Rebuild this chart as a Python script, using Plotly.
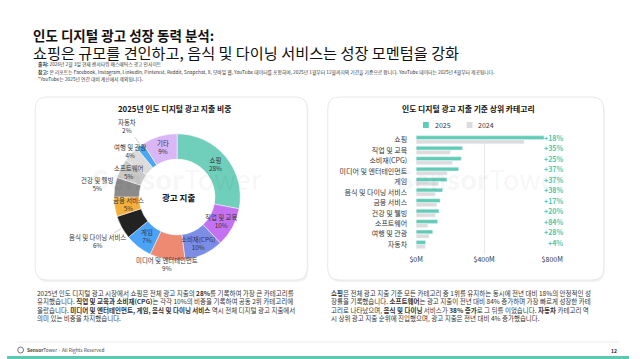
import math
import plotly.graph_objects as go

W, H = 640, 359
def px(x): return x / W
def py(y): return 1 - y / H

# ---------------- data ----------------
donut_labels = ["쇼핑", "직업 및 교육", "소비재(CPG)", "미디어 및 엔터테인먼트", "게임",
                "음식 및 다이닝 서비스", "금융 서비스", "건강 및 웰빙", "소프트웨어",
                "여행 및 관광", "자동차", "기타"]
donut_share = [28, 10, 10, 9, 7, 6, 5, 5, 5, 4, 2, 9]

bar_categories = ["쇼핑", "직업 및 교육", "소비재(CPG)", "미디어 및 엔터테인먼트", "게임",
                  "음식 및 다이닝 서비스", "금융 서비스", "건강 및 웰빙", "소프트웨어",
                  "여행 및 관광", "자동차"]
spend_2025 = [752, 272, 265, 250, 181, 155, 141, 134, 126, 97, 55]
spend_2024 = [634, 200, 212, 182, 132, 112, 120, 112, 68, 75, 53]
growth_labels = ["+18%", "+35%", "+25%", "+37%", "+37%", "+38%", "+17%", "+20%",
                 "+84%", "+28%", "+4%"]
x_tick_values = [0, 400, 800]
x_tick_labels = ["$0M", "$400M", "$800M"]
series_names = ["2025", "2024"]

# ---------------- styles ----------------
FONT = "Noto Sans CJK KR"
TEAL = "#5fcdb5"
GRAY = "#dcdcdc"
donut_colors = ["#6fcfbb", "#c472f2", "#7c8de6", "#ee8a72", "#4aa3f6", "#222222",
                "#f4b03c", "#8b8b8b", "#c9c9c9", "#dcdcdc", "#4ca7f2", "#d9b6f6"]
label_radius = [51, 51, 51, 68, 50, 93, 51, 83, 55, 66, 87, 52]
leader = [False, False, False, False, False, True, False, False, False, False, True, False]
CX, CY, R_OUT = 175, 197, 65

fig = go.Figure()

fig.add_trace(go.Pie(
    labels=donut_labels, values=donut_share, sort=False, direction="clockwise",
    rotation=0, hole=0.6,
    marker=dict(colors=donut_colors, line=dict(color="white", width=0.5)),
    textinfo="none",
    domain=dict(x=[px(CX - R_OUT), px(CX + R_OUT)], y=[py(CY + R_OUT), py(CY - R_OUT)]),
    showlegend=False, hoverinfo="label+percent",
))

fig.add_trace(go.Bar(
    y=bar_categories, x=spend_2025, name=series_names[0], orientation="h",
    marker=dict(color=TEAL), xaxis="x", yaxis="y", showlegend=False,
))
fig.add_trace(go.Bar(
    y=bar_categories, x=spend_2024, name=series_names[1], orientation="h",
    marker=dict(color=GRAY), xaxis="x", yaxis="y", showlegend=False,
))

def rrect(x0, y0, x1, y1, r):
    return (f"M {px(x0+r)},{py(y0)} L {px(x1-r)},{py(y0)} "
            f"Q {px(x1)},{py(y0)} {px(x1)},{py(y0+r)} L {px(x1)},{py(y1-r)} "
            f"Q {px(x1)},{py(y1)} {px(x1-r)},{py(y1)} L {px(x0+r)},{py(y1)} "
            f"Q {px(x0)},{py(y1)} {px(x0)},{py(y1-r)} L {px(x0)},{py(y0+r)} "
            f"Q {px(x0)},{py(y0)} {px(x0+r)},{py(y0)} Z")

shapes = []
for (x0, y0, x1, y1) in [(29, 97, 309, 280), (330, 97, 614, 280)]:
    shapes.append(dict(type="path", path=rrect(x0 + 1, y0 + 2, x1 + 1, y1 + 2, 12),
                       xref="paper", yref="paper", fillcolor="#f1f1f1",
                       line=dict(width=0), layer="below"))
    shapes.append(dict(type="path", path=rrect(x0, y0, x1, y1, 12),
                       xref="paper", yref="paper", fillcolor="white",
                       line=dict(color="#e9e9e9", width=1), layer="below"))
shapes.append(dict(type="line", xref="paper", yref="paper", x0=px(10), x1=px(630),
                   y0=py(342), y1=py(342), line=dict(color="#ececec", width=1)))
shapes.append(dict(type="rect", xref="paper", yref="paper", x0=0, x1=1,
                   y0=0, y1=py(356), fillcolor="#5ec9b3", line=dict(width=0)))
shapes.append(dict(type="circle", xref="paper", yref="paper", x0=px(11), x1=px(17),
                   y0=py(353), y1=py(347), line=dict(color="#555", width=0.8)))

ann = []
def text(x, y, s, size, color="#222222", xanchor="left", yanchor="middle", bold=False, **kw):
    ann.append(dict(x=px(x), y=py(y), xref="paper", yref="paper",
                    text=(f"<b>{s}</b>" if bold else s),
                    showarrow=False, xanchor=xanchor, yanchor=yanchor,
                    font=dict(family=FONT, size=size, color=color), **kw))

# watermarks (drawn first, behind other texts)
text(175, 178, "<b>Sensor</b>Tower", 27, "rgba(0,0,0,0.055)", xanchor="center")
text(489, 178, "<b>Sensor</b>Tower", 27, "rgba(0,0,0,0.055)", xanchor="center")

# donut labels placed from cumulative shares
total = sum(donut_share)
cum = 0
for lab, v, r, ld in zip(donut_labels, donut_share, label_radius, leader):
    ang = (cum + v / 2) / total * 2 * math.pi
    cum += v
    lx, ly = CX + r * math.sin(ang), CY - r * math.cos(ang)
    text(lx, ly, f"{lab}<br>{v}%", 6.4, "#333333", xanchor="center", align="center")
    if ld:
        x0, y0 = CX + (R_OUT + 1) * math.sin(ang), CY - (R_OUT + 1) * math.cos(ang)
        x1, y1 = CX + (R_OUT + 9) * math.sin(ang), CY - (R_OUT + 9) * math.cos(ang)
        shapes.append(dict(type="line", xref="paper", yref="paper", x0=px(x0), y0=py(y0),
                           x1=px(x1), y1=py(y1), line=dict(color="#bbbbbb", width=0.7)))

# titles
text(25, 35, "인도 디지털 광고 성장 동력 분석:", 13.5, "#111111", bold=True)
text(25, 51.5, "쇼핑은 규모를 견인하고, 음식 및 다이닝 서비스는 성장 모멘텀을 강화", 15.2, "#111111")
text(30, 64.5, "<b>출처:</b> 2026년 2월 3일 현재 센서타워 패스매틱스 광고 인사이트", 4.8, "#333333")
text(30, 71.5, "<b>참고:</b> 본 리포트는 Facebook, Instagram, LinkedIn, Pinterest, Reddit, Snapchat, X, 모바일 웹, YouTube 데이터를 포함하며, 2025년 1월부터 12월까지의 기간을 기준으로 합니다. YouTube 데이터는 2025년 4월부터 제공됩니다.", 4.8, "#333333")
text(30, 78.5, "*YouTube는 2025년 연간 대비 계산에서 제외됩니다.", 4.8, "#333333")

# card titles
text(172, 108, "2025년 인도 디지털 광고 지출 비중", 7.8, "#111111", xanchor="center", bold=True)
text(475, 108, "인도 디지털 광고 지출 기준 상위 카테고리", 7.8, "#111111", xanchor="center", bold=True)
text(176, 197, "광고 지출", 8.5, "#111111", xanchor="center", bold=True)

# legend (series swatches)
for (sx, name, col) in [(428, series_names[0], TEAL), (473, series_names[1], GRAY)]:
    shapes.append(dict(type="rect", xref="paper", yref="paper", x0=px(sx), x1=px(sx + 6),
                       y0=py(128), y1=py(122), fillcolor=col, line=dict(width=0)))
    text(sx + 10, 125, name, 7, "#333333")

# growth labels
for cat, g in zip(bar_categories, growth_labels):
    ann.append(dict(x=px(574), xref="paper", y=cat, yref="y", yshift=2, text=f"<b>{g}</b>",
                    showarrow=False, xanchor="right",
                    font=dict(family=FONT, size=7, color="#4cc7ad")))

# paragraphs
left_par = ("2025년 인도 디지털 광고 시장에서 쇼핑은 전체 광고 지출의 <b>28%</b>를 기록하여 가장 큰 카테고리를<br>"
            "유지했습니다. <b>직업 및 교육과 소비재(CPG)</b>는 각각 10%의 비중을 기록하여 공동 2위 카테고리에<br>"
            "올랐습니다. <b>미디어 및 엔터테인먼트, 게임, 음식 및 다이닝 서비스</b> 역시 전체 디지털 광고 지출에서<br>"
            "의미 있는 비중을 차지했습니다.")
right_par = ("<b>쇼핑</b>은 전체 광고 지출 기준 모든 카테고리 중 1위를 유지하는 동시에 전년 대비 18%의 안정적인 성<br>"
             "장률을 기록했습니다. <b>소프트웨어</b>는 광고 지출이 전년 대비 84% 증가하며 가장 빠르게 성장한 카테<br>"
             "고리로 나타났으며, <b>음식 및 다이닝</b> 서비스가 <b>38% 증가</b>로 그 뒤를 이었습니다. <b>자동차</b> 카테고리 역<br>"
             "시 상위 광고 지출 순위에 진입했으며, 광고 지출은 전년 대비 4% 증가했습니다.")
text(29, 286, left_par, 6.5, "#333333", yanchor="top", align="left")
text(331, 286, right_par, 6.5, "#333333", yanchor="top", align="left")

# footer
text(19, 350, "<b>Sensor</b>Tower · All Rights Reserved", 4.8, "#444444")
text(630, 350, "12", 5, "#222222", xanchor="right", bold=True)

fig.update_layout(
    width=W, height=H, margin=dict(l=0, r=0, t=0, b=0),
    paper_bgcolor="white", plot_bgcolor="rgba(0,0,0,0)",
    font=dict(family=FONT, color="#333333"),
    barmode="group", bargap=0.22, bargroupgap=0.08,
    showlegend=False,
    xaxis=dict(domain=[px(421), px(561)], range=[0, 800], tickvals=x_tick_values,
               ticktext=x_tick_labels, showgrid=True, gridcolor="#e8e8e8", gridwidth=1,
               zeroline=False, showline=False, ticks="", anchor="y",
               tickfont=dict(family=FONT, size=7, color="#333333")),
    yaxis=dict(domain=[py(253.5), py(134.5)], autorange="reversed", showgrid=False,
               zeroline=False, showline=False, ticks="", ticklabelstandoff=8, anchor="x",
               tickfont=dict(family=FONT, size=7, color="#333333")),
    shapes=shapes, annotations=ann,
)

fig.write_html("out.html", config={"displayModeBar": False},
               post_script="document.body.style.margin='0px';")
